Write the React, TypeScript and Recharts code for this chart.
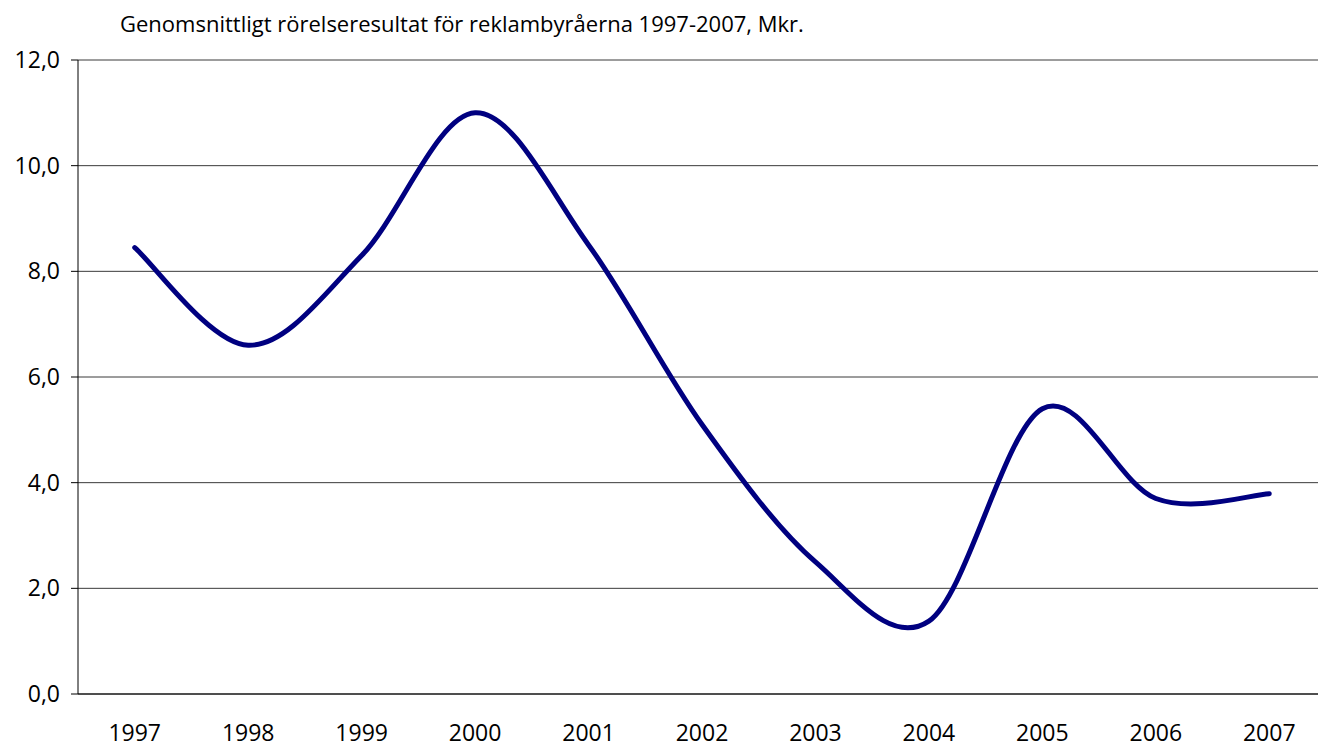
import { LineChart, Line, XAxis, YAxis, CartesianGrid } from "recharts";

const YEARS = ["1997", "1998", "1999", "2000", "2001", "2002", "2003", "2004", "2005", "2006", "2007"];
const RESULT = [8.45, 6.6, 8.3, 11.0, 8.5, 5.1, 2.5, 1.38, 5.4, 3.7, 3.79];
const Y_TICKS = [0, 2, 4, 6, 8, 10, 12];
const TITLE = "Genomsnittligt rörelseresultat för reklambyråerna 1997-2007, Mkr.";

// category boundaries (tick marks) and centers (labels)
const BOUNDARIES = YEARS.map((_, i) => i - 0.5).concat(YEARS.length - 0.5);
const CENTERS = YEARS.map((_, i) => i);

const data = YEARS.map((year, i) => ({ i, year, v: RESULT[i] }));

const FONT = "'Open Sans', Lato, sans-serif";

// Excel-like smoothing: Catmull-Rom spline drawn as cubic beziers
function excelCurve(context: any) {
	let pts: [number, number][] = [];
	return {
		areaStart() {},
		areaEnd() {},
		lineStart() {
			pts = [];
		},
		lineEnd() {
			const n = pts.length;
			if (!n) return;
			context.moveTo(pts[0][0], pts[0][1]);
			for (let k = 0; k < n - 1; k++) {
				const p0 = pts[Math.max(k - 1, 0)];
				const p1 = pts[k];
				const p2 = pts[k + 1];
				const p3 = pts[Math.min(k + 2, n - 1)];
				context.bezierCurveTo(
					p1[0] + (p2[0] - p0[0]) / 6,
					p1[1] + (p2[1] - p0[1]) / 6,
					p2[0] - (p3[0] - p1[0]) / 6,
					p2[1] - (p3[1] - p1[1]) / 6,
					p2[0],
					p2[1],
				);
			}
		},
		point(x: number, y: number) {
			pts.push([+x, +y]);
		},
	};
}

const fmt = (v: number) => v.toFixed(1).replace(".", ",");

export default function App() {
	return (
		<div
			style={{
				position: "absolute",
				left: 0,
				top: 0,
				width: 1318,
				height: 747,
				overflow: "hidden",
				background: "#fff",
			}}
		>
			<svg width={1318} height={50} style={{ position: "absolute", left: 0, top: 0 }}>
				<text x={120} y={32} fontFamily={FONT} fontSize={22} fill="#000">
					{TITLE}
				</text>
			</svg>
			<div style={{ position: "absolute", left: 0, top: 0 }}>
				<LineChart width={1330} height={747} data={data} margin={{ top: 60, right: 4, bottom: 0, left: 0 }}>
					<CartesianGrid vertical={false} stroke="#3a3a3a" strokeWidth={1} />
					<XAxis
						type="number"
						dataKey="i"
						domain={[-0.5, YEARS.length - 0.5]}
						allowDataOverflow
						ticks={BOUNDARIES}
						interval={0}
						tick={false}
						tickSize={8}
						height={8}
						axisLine={{ stroke: "#000" }}
						tickLine={{ stroke: "#000" }}
					/>
					<XAxis
						xAxisId="labels"
						type="number"
						dataKey="i"
						domain={[-0.5, YEARS.length - 0.5]}
						allowDataOverflow
						ticks={CENTERS}
						interval={0}
						tickFormatter={(v: number) => YEARS[v]}
						axisLine={false}
						tickLine={false}
						tickSize={0}
						tickMargin={23}
						height={45}
						tick={{ fontFamily: FONT, fontSize: 23, fill: "#000" }}
					/>
					<YAxis
						type="number"
						domain={[0, 12]}
						ticks={Y_TICKS}
						interval={0}
						width={78}
						tickSize={7}
						tickMargin={11}
						tickFormatter={fmt}
						axisLine={{ stroke: "#000" }}
						tickLine={{ stroke: "#000" }}
						tick={{ fontFamily: FONT, fontSize: 23, fill: "#000" }}
					/>
					<Line
						dataKey="v"
						type={excelCurve as any}
						stroke="#000080"
						strokeWidth={5}
						strokeLinecap="round"
						dot={false}
						activeDot={false}
						isAnimationActive={false}
					/>
				</LineChart>
			</div>
		</div>
	);
}
